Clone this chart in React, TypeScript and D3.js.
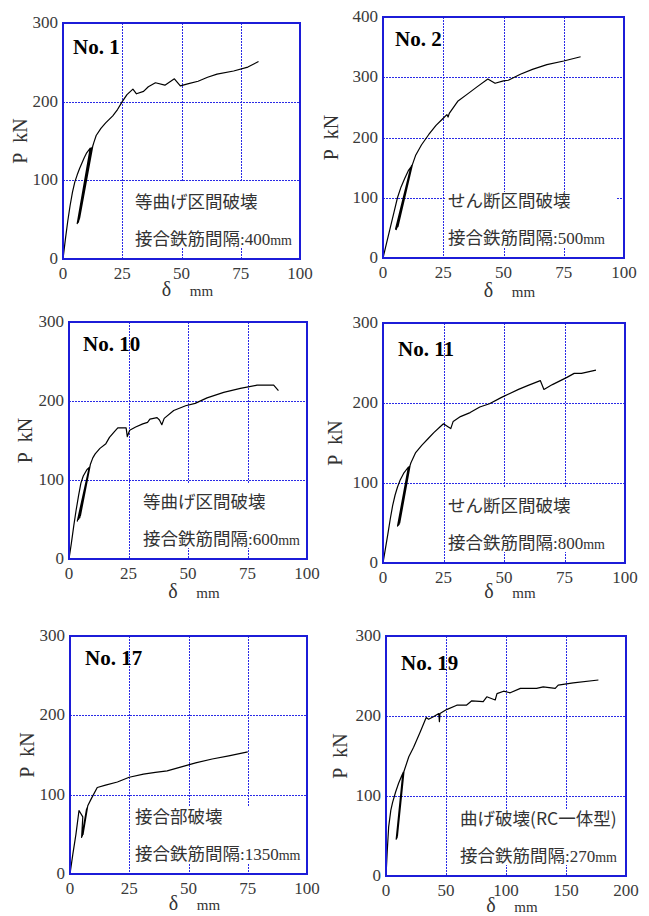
import React from 'react';
import * as d3 from 'd3';

type Pt = [number, number];

// load (kN) vs. deflection (mm); loops are the unload/reload cycles
const no1Curve: Pt[] = [
  [0, 0], [1, 25], [2, 48], [3, 68], [4, 85], [5, 98], [6, 107], [7, 115], [8, 122], [9, 129], [10, 135], [11.5, 141],
  [6, 45], [12, 141], [6.2, 46], [12.2, 142], [6.5, 47], [12.3, 142], [6.8, 50], [12.5, 143], [7, 52], [12.6, 144],
  [13, 148], [14, 157], [16, 166], [18, 173], [21, 182], [23, 190], [25, 200], [27, 209], [29.5, 216], [31, 210],
  [34, 213], [36, 219], [39, 224], [43, 221], [47, 229], [49.5, 220], [53, 223], [57, 226], [61, 231], [65, 235],
  [72, 239], [78, 244], [82.5, 251],
];

const no2Curve: Pt[] = [
  [0, 0], [1.5, 25], [3, 50], [4.5, 75], [6, 100], [7.5, 118], [9, 132], [10.5, 145], [11.8, 152],
  [5.5, 47], [11.5, 150], [5.2, 48], [11.8, 153], [5.8, 50], [12, 154], [6.2, 52], [12.2, 155],
  [13.5, 170], [16, 188], [19, 205], [22, 220], [25, 232], [26.5, 238], [27, 234], [27.5, 240], [31, 260],
  [35, 272], [39, 284], [43.5, 297], [46.5, 290], [50, 294], [52, 295], [57, 305], [62, 313], [68, 321],
  [75, 327], [82, 334],
];

const no10Curve: Pt[] = [
  [0, 0], [1, 20], [2, 42], [3, 62], [4, 80], [5, 96], [6, 105], [7.5, 113], [8.5, 116],
  [3.5, 48], [8.3, 113], [4, 50], [8.5, 115], [4.5, 52], [8.8, 117], [4.8, 55], [9, 120],
  [10, 128], [11, 133], [13, 140], [15.5, 146], [17, 154], [19, 161], [20.5, 166], [24, 166], [24.5, 155],
  [25.5, 163], [28, 167], [31, 171], [33, 173], [34, 177], [37, 179], [38, 176], [39, 170], [40, 178],
  [44, 188], [49, 194], [53, 197], [58, 204], [65, 211], [72, 216], [79, 220], [86, 220], [88, 213],
];

const no11Curve: Pt[] = [
  [0, 0], [1, 18], [2, 36], [3, 55], [4, 72], [5, 85], [6, 95], [7, 103], [8.5, 112], [10.5, 120],
  [6, 46], [10.5, 119], [6.3, 47], [10.8, 120], [6.6, 48], [11, 121], [6.9, 50], [11.2, 122],
  [11.5, 125], [13.5, 138], [16, 147], [18.5, 155], [21, 163], [23.5, 170], [25, 174], [27, 170], [28, 168],
  [29, 177], [32, 183], [36, 188], [40, 195], [44, 199], [49, 207], [56, 217], [60, 222], [65, 228],
  [66.5, 217], [70, 223], [76, 232], [79, 237], [82, 237], [88, 241],
];

const no17Curve: Pt[] = [
  [0, 0], [1.2, 25], [2.5, 50], [3.8, 80], [5.4, 72], [4.9, 46], [7, 82], [5.2, 48], [7.3, 84], [5.5, 50],
  [7.5, 86], [9, 95], [11.5, 109], [15, 112], [20, 116], [25, 122], [31, 126], [36, 128], [41, 130],
  [47, 135], [53, 140], [60, 145], [67, 149], [75, 154],
];

const no19Curve: Pt[] = [
  [0, 0], [1, 30], [2.2, 61], [4, 82], [5.5, 92], [8, 105], [10.5, 116], [13, 125], [14.5, 130],
  [8.5, 46], [14, 128], [8.8, 47], [14.5, 129], [9.2, 48], [14.8, 130], [9.5, 50], [15, 131],
  [19, 149], [23, 161], [28.5, 180], [33.5, 198], [35.5, 196], [39.5, 199], [44, 203], [44.5, 193],
  [45, 203], [50.5, 208], [59, 213.5], [67, 213.5], [71.5, 219], [81, 218], [84, 224], [91, 220],
  [92.5, 228], [98, 231], [103.5, 229], [112, 234.5], [125.5, 234.5], [131, 236.5], [141, 234.5],
  [143.5, 238.5], [156, 241.5], [177, 245],
];

const xTicks100 = [0, 25, 50, 75, 100];
const xTicks200 = [0, 50, 100, 150, 200];
const yTicks300 = [0, 100, 200, 300];
const yTicks400 = [0, 100, 200, 300, 400];

const titles = ['No. 1', 'No. 2', 'No. 10', 'No. 11', 'No. 17', 'No. 19'];
const failureNotes = ['等曲げ区間破壊', 'せん断区間破壊', '等曲げ区間破壊', 'せん断区間破壊', '接合部破壊', '曲げ破壊(RC一体型)'];
const spacingLabel = '接合鉄筋間隔';
const spacings = ['400', '500', '600', '800', '1350', '270'];

const curves = [no1Curve, no2Curve, no10Curve, no11Curve, no17Curve, no19Curve];
const xTickSets = [xTicks100, xTicks100, xTicks100, xTicks100, xTicks100, xTicks200];
const yTickSets = [yTicks300, yTicks400, yTicks300, yTicks300, yTicks300, yTicks300];

// frame position + per-panel text offsets
const layout = [
  { left: 63, top: 23, w: 237, h: 236, noteDx: 72, boxTop: -77, ylabDx: -43, xlabDy: 37, titleDx: 10, titleDy: 31 },
  { left: 383, top: 17, w: 241, h: 241, noteDx: 65, boxTop: -66, ylabDx: -52, xlabDy: 39, titleDx: 12, titleDy: 29 },
  { left: 69, top: 322, w: 238, h: 237, noteDx: 74, boxTop: -76, ylabDx: -44, xlabDy: 39, titleDx: 14, titleDy: 29 },
  { left: 383, top: 323, w: 242, h: 240, noteDx: 65, boxTop: -76, ylabDx: -48, xlabDy: 35, titleDx: 15, titleDy: 33 },
  { left: 70, top: 636, w: 237, h: 238, noteDx: 65, boxTop: -67, ylabDx: -43, xlabDy: 36, titleDx: 15, titleDy: 29 },
  { left: 386, top: 636, w: 240, h: 240, noteDx: 74, boxTop: -66, ylabDx: -46, xlabDy: 36, titleDx: 15, titleDy: 34 },
];

const serif = '"Liberation Serif", "DejaVu Serif", serif';
const jp = '"Noto Sans CJK JP", sans-serif';
const gridBlue = '#2a2ae6';
const frameBlue = '#1c1cd8';
const crisp = (v: number) => Math.round(v) + 0.5;

function Panel({ i }: { i: number }) {
  const L = layout[i];
  const xt = xTickSets[i];
  const yt = yTickSets[i];
  const x = d3.scaleLinear().domain([xt[0], xt[xt.length - 1]]).range([L.left, L.left + L.w]);
  const y = d3.scaleLinear().domain([yt[0], yt[yt.length - 1]]).range([L.top + L.h, L.top]);
  const line = d3.line<Pt>().x(d => x(d[0])).y(d => y(d[1]));
  const bottom = L.top + L.h;
  const right = L.left + L.w;
  const cx = L.left + L.w / 2;
  const cy = L.top + L.h / 2;
  const noteX = L.left + L.noteDx;

  return (
    <g>
      {xt.slice(1, -1).map(t => (
        <line key={'gx' + t} x1={crisp(x(t))} x2={crisp(x(t))} y1={L.top} y2={bottom} stroke={gridBlue} strokeWidth={1} strokeDasharray="2,1" />
      ))}
      {yt.slice(1, -1).map(t => (
        <line key={'gy' + t} x1={L.left} x2={right} y1={crisp(y(t))} y2={crisp(y(t))} stroke={gridBlue} strokeWidth={1} strokeDasharray="2,1" />
      ))}
      <rect x={noteX - 3} y={bottom + L.boxTop} width={right - 8 - (noteX - 3)} height={-L.boxTop - 11} fill="#fff" />
      <path d={line(curves[i]) || ''} fill="none" stroke="#000" strokeWidth={1.2} strokeLinejoin="round" />
      <rect x={L.left} y={L.top} width={L.w} height={L.h} fill="none" stroke={frameBlue} strokeWidth={2} />

      {yt.map(t => (
        <text key={'ty' + t} x={L.left - 5} y={y(t) + 5} textAnchor="end" fontFamily={serif} fontSize={17} fill="#3a3a3a">{t}</text>
      ))}
      {xt.map(t => (
        <text key={'tx' + t} x={x(t)} y={bottom + 20} textAnchor="middle" fontFamily={serif} fontSize={17} fill="#3a3a3a">{t}</text>
      ))}

      <text x={cx - 15} y={bottom + L.xlabDy} textAnchor="middle" fontFamily={serif} fontSize={20} fill="#333">δ</text>
      <text x={cx + 20} y={bottom + L.xlabDy} textAnchor="middle" fontFamily={serif} fontSize={15} fill="#333">mm</text>
      <text transform={`translate(${L.left + L.ylabDx + 7},${cy}) rotate(-90)`} textAnchor="middle" fontFamily={serif} fontSize={20} fill="#333">P{'\u2002'}kN</text>

      <text x={L.left + L.titleDx} y={L.top + L.titleDy} fontFamily={serif} fontWeight="bold" fontSize={21} fill="#000">{titles[i]}</text>
      <text x={noteX} y={bottom - 51} fontFamily={jp} fontSize={17.5} fill="#333">{failureNotes[i]}</text>
      <text x={noteX} y={bottom - 14} fontFamily={jp} fontSize={17.5} fill="#333">
        {spacingLabel}
        <tspan fontFamily={serif} fontSize={17}>:{spacings[i]}</tspan>
        <tspan fontFamily={serif} fontSize={14}>mm</tspan>
      </text>
    </g>
  );
}

export default function App() {
  return (
    <svg width={649} height={916} style={{ position: 'absolute', left: 0, top: 0, background: '#fff' }}>
      <rect width={649} height={916} fill="#fff" />
      {layout.map((_, i) => <Panel key={i} i={i} />)}
    </svg>
  );
}
